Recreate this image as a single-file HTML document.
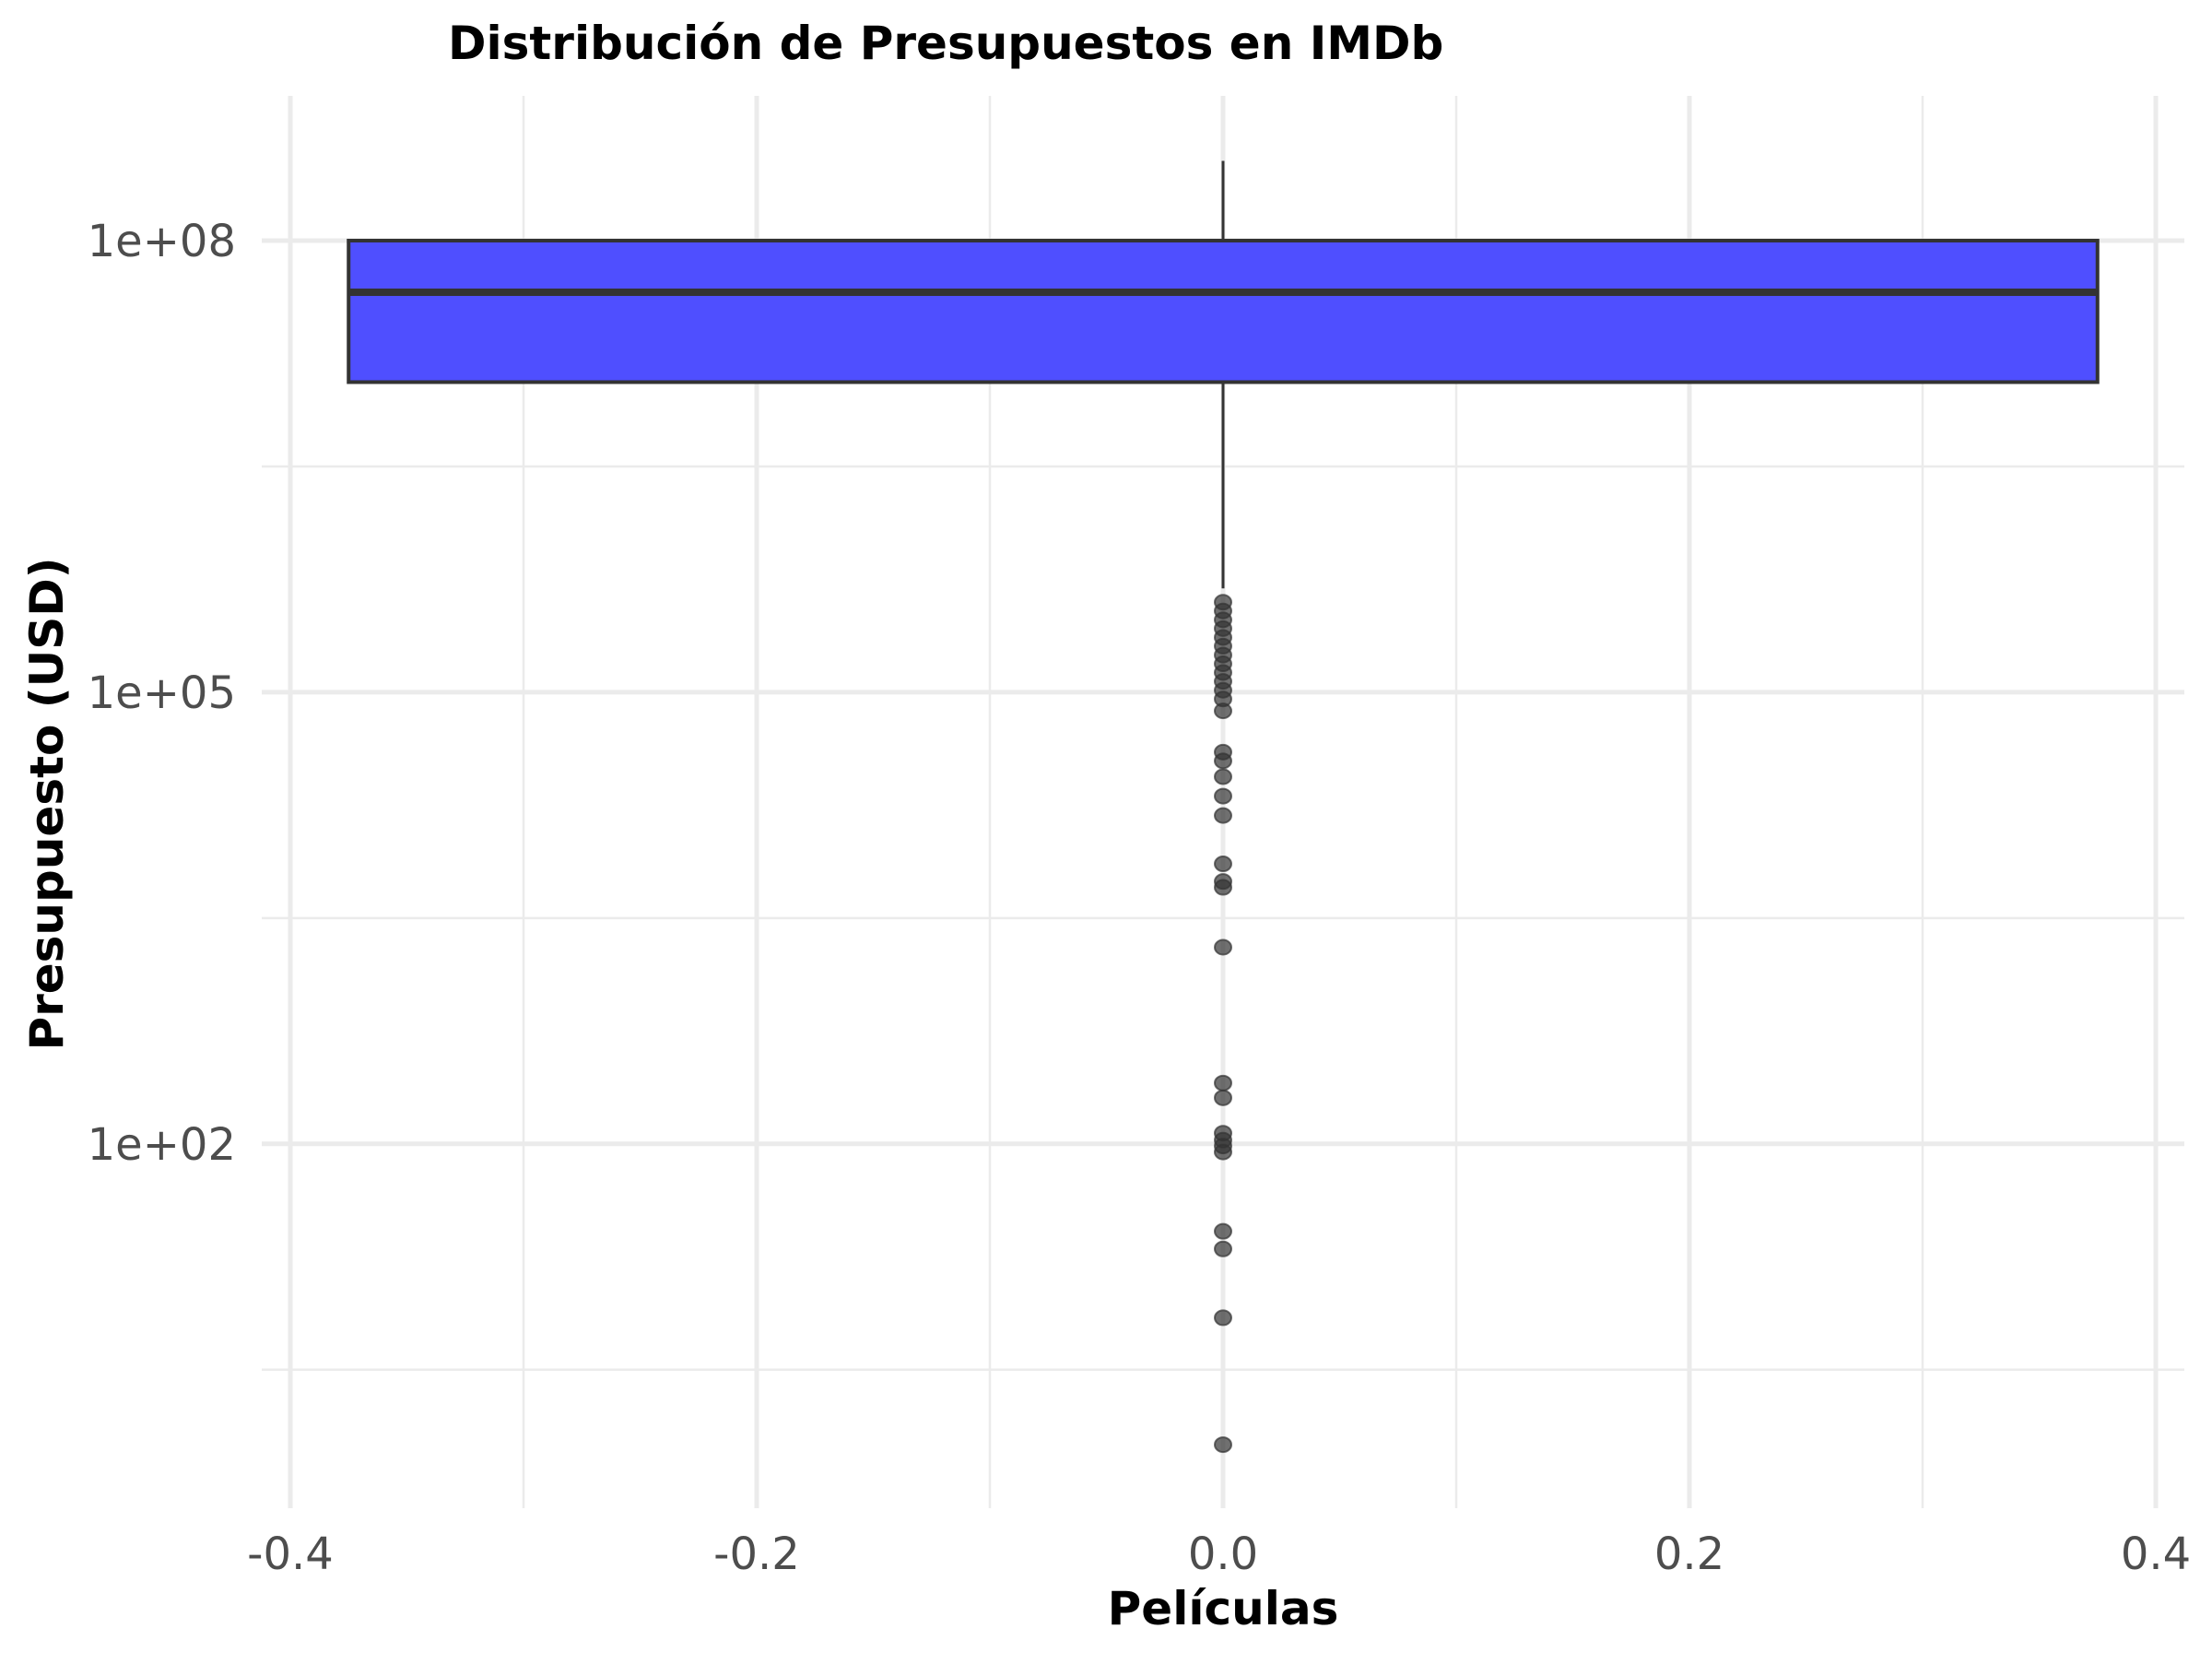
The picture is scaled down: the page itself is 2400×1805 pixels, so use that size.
<!DOCTYPE html>
<html><head><meta charset="utf-8"><style>
body{margin:0;background:#fff}
svg text{font-family:"DejaVu Sans","Liberation Sans",sans-serif}
</style></head><body>
<svg id="chart" width="2400" height="1800" xmlns="http://www.w3.org/2000/svg">
<rect width="2400" height="1800" fill="#fff"/>
<g id="grid"></g>
<g id="plot"></g>
<g id="axes"></g>
<text x="486" y="64" font-size="50" font-weight="bold" fill="#000">Distribución de Presupuestos en IMDb</text>
<text x="1327" y="1762" font-size="50" font-weight="bold" text-anchor="middle" fill="#000">Películas</text>
<text transform="translate(68,872) rotate(-90)" font-size="50" font-weight="bold" text-anchor="middle" fill="#000">Presupuesto (USD)</text>
</svg>
<script>
const boxStats = [7.06, 7.657, 8.0];        // log10 q1, median, q3
const whiskers = [5.69, 8.53];             // log10 lower, upper
const boxWidth = [-0.375, 0.375];
const outliers = [5.598,5.540,5.481,5.423,5.364,5.306,5.247,5.189,5.131,5.072,5.013,4.955,4.876,4.602,4.544,4.439,4.310,4.181,3.860,3.743,3.704,3.306,2.404,2.306,2.071,2.025,1.986,1.946,1.419,1.302,0.845,0.002];
const xTicks = [-0.4,-0.2,0.0,0.2,0.4];
const xTickLabels = ["-0.4","-0.2","0.0","0.2","0.4"];
const xMinor = [-0.3,-0.1,0.1,0.3];
const yTicks = [2,5,8];
const yTickLabels = ["1e+02","1e+05","1e+08"];
const yMinor = [0.5,3.5,6.5];

const NS="http://www.w3.org/2000/svg";
const X = v => 1327 + v*2530;
const Y = l => 261 + (8-l)*163.3;
const PL=284, PR=2370, PT=104, PB=1636;
function mk(tag, attrs, parent){const e=document.createElementNS(NS,tag);for(const k in attrs)e.setAttribute(k,attrs[k]);parent.appendChild(e);return e;}
const grid=document.getElementById('grid'), plot=document.getElementById('plot'), axes=document.getElementById('axes');
yMinor.forEach(l=>{const e=mk('line',{x1:PL,x2:PR,y1:Y(l),y2:Y(l),stroke:'#ebebeb','stroke-width':2.5},grid);

});
xMinor.forEach(v=>{const e=mk('line',{x1:X(v),x2:X(v),y1:PT,y2:PB,stroke:'#ebebeb','stroke-width':2.5},grid);

});
yTicks.forEach((l,i)=>{const e=mk('line',{x1:PL,x2:PR,y1:Y(l),y2:Y(l),stroke:'#ebebeb','stroke-width':5},grid);


const t=mk('text',{x:256,y:Y(l)+17,'font-size':48,'text-anchor':'end',fill:'#4d4d4d'},axes);t.textContent=yTickLabels[i];

});
xTicks.forEach((v,i)=>{const e=mk('line',{x1:X(v),x2:X(v),y1:PT,y2:PB,stroke:'#ebebeb','stroke-width':5},grid);


const t=mk('text',{x:X(v),y:1702,'font-size':48,'text-anchor':'middle',fill:'#4d4d4d'},axes);t.textContent=xTickLabels[i];

});
const w1=mk('line',{x1:X(0),x2:X(0),y1:Y(whiskers[1]),y2:Y(boxStats[2]),stroke:'#333','stroke-width':3},plot);


const w2=mk('line',{x1:X(0),x2:X(0),y1:Y(boxStats[0]),y2:Y(whiskers[0]),stroke:'#333','stroke-width':3},plot);


const box=mk('rect',{x:X(boxWidth[0]),y:Y(boxStats[2]),width:X(boxWidth[1])-X(boxWidth[0]),height:Y(boxStats[0])-Y(boxStats[2]),fill:'#4f4fff',stroke:'#333','stroke-width':4},plot);


const med=mk('line',{x1:X(boxWidth[0]),x2:X(boxWidth[1]),y1:Y(boxStats[1]),y2:Y(boxStats[1]),stroke:'#333','stroke-width':8},plot);


outliers.forEach(l=>{const c=mk('ellipse',{cx:X(0),cy:Y(l),rx:9,ry:8,fill:'rgba(51,51,51,0.7)',stroke:'rgba(51,51,51,0.7)','stroke-width':2},plot);

});
</script>
</body></html>
